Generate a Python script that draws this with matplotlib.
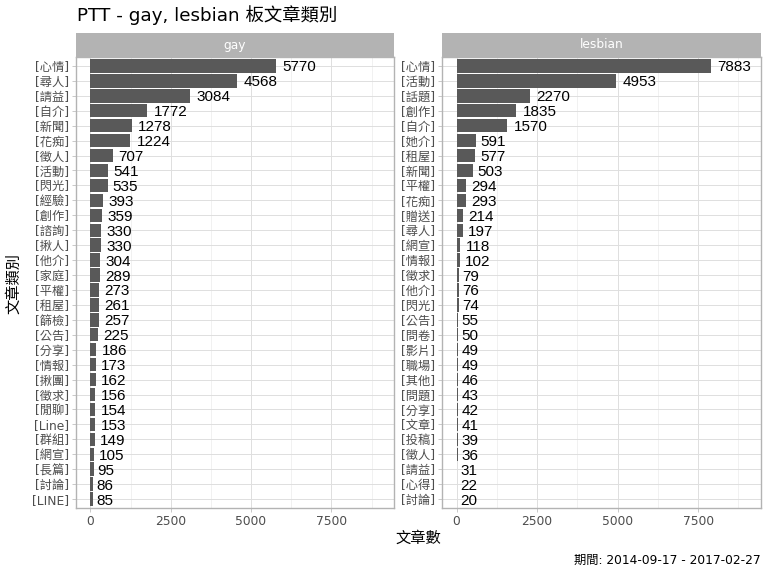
import numpy as np
import matplotlib
matplotlib.use('Agg')
import matplotlib.pyplot as plt

plt.rcParams['font.family'] = ['DejaVu Sans', 'Noto Sans CJK TC']

# data
gay_cats = ['心情', '尋人', '請益', '自介', '新聞', '花痴', '徵人', '活動', '閃光', '經驗',
            '創作', '諮詢', '揪人', '他介', '家庭', '平權', '租屋', '篩檢', '公告', '分享',
            '情報', '揪團', '徵求', '閒聊', 'Line', '群組', '網宣', '長篇', '討論', 'LINE']
gay_vals = [5770, 4568, 3084, 1772, 1278, 1224, 707, 541, 535, 393,
            359, 330, 330, 304, 289, 273, 261, 257, 225, 186,
            173, 162, 156, 154, 153, 149, 105, 95, 86, 85]

les_cats = ['心情', '活動', '話題', '創作', '自介', '她介', '租屋', '新聞', '平權', '花痴',
            '贈送', '尋人', '網宣', '情報', '徵求', '他介', '閃光', '公告', '問卷', '影片',
            '職場', '其他', '問題', '分享', '文章', '投稿', '徵人', '請益', '心得', '討論']
les_vals = [7883, 4953, 2270, 1835, 1570, 591, 577, 503, 294, 293,
            214, 197, 118, 102, 79, 76, 74, 55, 50, 49,
            49, 46, 43, 42, 41, 39, 36, 31, 22, 20]

panels = [('gay', gay_cats, gay_vals), ('lesbian', les_cats, les_vals)]

W, H = 768, 576
fig = plt.figure(figsize=(7.68, 5.76), dpi=100)

grey70 = '#b3b3b3'
grid_col = '#dedede'
bar_col = '#595959'
tick_col = '#4d4d4d'

panel_x = [(76, 394), (442, 761)]
p_top, p_bot = 57, 508
strip_top = 33

for (name, cats, vals), (x0, x1) in zip(panels, panel_x):
    ax = fig.add_axes([x0 / W, 1 - p_bot / H, (x1 - x0) / W, (p_bot - p_top) / H])
    n = len(cats)
    y = np.arange(n)
    ax.set_axisbelow(True)
    ax.barh(y, vals, height=0.9, color=bar_col, zorder=2)
    for yi, v in zip(y, vals):
        off = 0.2 * len(str(v)) * 0.556 * 11
        ax.annotate(str(v), (v, yi), xytext=(off, 0), textcoords='offset points',
                    ha='left', va='center_baseline', fontsize=11,
                    family='Liberation Sans', color='black', zorder=3)
    ax.set_xlim(-450, 9450)
    ax.set_ylim(n - 0.4, -0.6)
    ax.set_yticks(y)
    ax.set_yticklabels(['[' + c + ']' for c in cats])
    ax.set_xticks([0, 2500, 5000, 7500])
    ax.set_xticks([1250, 3750, 6250, 8750], minor=True)
    ax.grid(True, which='major', color=grid_col, linewidth=0.7)
    ax.grid(True, which='minor', axis='x', color='#ececec', linewidth=0.5)
    ax.tick_params(which='major', length=3, width=0.5, color=grey70,
                   labelcolor=tick_col, labelsize=8.8, pad=2.2)
    ax.tick_params(which='minor', length=0)
    for s in ax.spines.values():
        s.set_color(grey70)
        s.set_linewidth(1.0)

    sx = fig.add_axes([x0 / W, 1 - p_top / H, (x1 - x0) / W, (p_top - strip_top) / H])
    sx.set_facecolor(grey70)
    sx.set_xticks([])
    sx.set_yticks([])
    for s in sx.spines.values():
        s.set_visible(False)
    sx.text(0.5, 0.5, name, ha='center', va='center', color='white', fontsize=8.8,
            transform=sx.transAxes)

fig.text(77 / W, 1 - 15 / H, 'PTT - gay, lesbian 板文章類別', fontsize=13.2,
         ha='left', va='center', color='black')
fig.text(418 / W, 1 - 538 / H, '文章數', fontsize=11, ha='center', va='center')
fig.text(14 / W, 1 - 283 / H, '文章類別', fontsize=11, ha='center', va='center',
         rotation=90)
fig.text(761 / W, 1 - 560 / H, '期間: 2014-09-17 - 2017-02-27', fontsize=8.8,
         ha='right', va='center')

fig.savefig('out.png', dpi=100)
